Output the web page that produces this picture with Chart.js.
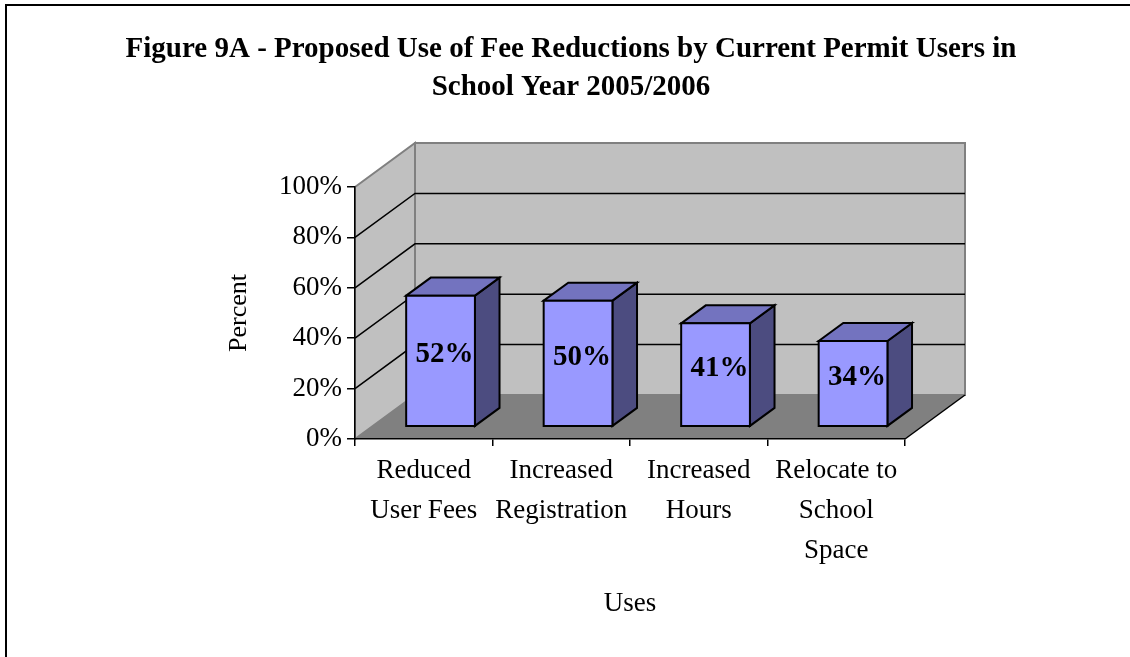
<!DOCTYPE html>
<html>
<head>
<meta charset="utf-8">
<title>Figure 9A</title>
<script src="https://cdn.jsdelivr.net/npm/chart.js@4.4.0/dist/chart.umd.min.js"></script>
<style>
  html, body { margin: 0; padding: 0; background: #fff; }
  #wrap { width: 1130px; height: 657px; }
</style>
</head>
<body>
<div id="wrap"><canvas id="myChart" width="1130" height="657"></canvas></div>
<script>
// chart data
const titleLines = ['Figure 9A - Proposed Use of Fee Reductions by Current Permit Users in', 'School Year 2005/2006'];
const categories = [['Reduced', 'User Fees'], ['Increased', 'Registration'], ['Increased', 'Hours'], ['Relocate to', 'School', 'Space']];
const percentValues = [52, 50, 41, 34];
const yTicks = [0, 20, 40, 60, 80, 100];

const SERIF = "'Liberation Serif', 'Times New Roman', serif";

// fake 3d depth of the plot box, and where the bars sit inside it
const DEPTH_X = 60;
const DEPTH_Y = -44;
const BAR_FRONT = 0.28;
const BAR_DEPTH = 0.41;

function poly(ctx, pts, fill, stroke, width) {
  ctx.beginPath();
  ctx.moveTo(pts[0][0], pts[0][1]);
  for (let i = 1; i < pts.length; i++) {
    ctx.lineTo(pts[i][0], pts[i][1]);
  }
  ctx.closePath();
  if (fill) {
    ctx.fillStyle = fill;
    ctx.fill();
  }
  if (stroke) {
    ctx.strokeStyle = stroke;
    ctx.lineWidth = width || 1;
    ctx.stroke();
  }
}

function line(ctx, pts, color, width) {
  ctx.beginPath();
  ctx.moveTo(pts[0][0], pts[0][1]);
  for (let i = 1; i < pts.length; i++) {
    ctx.lineTo(pts[i][0], pts[i][1]);
  }
  ctx.strokeStyle = color;
  ctx.lineWidth = width;
  ctx.stroke();
}

// walls, floor and gridlines behind the axes
const walls3d = {
  id: 'walls3d',
  beforeDraw(chart) {
    const ctx = chart.ctx;
    const a = chart.chartArea;
    const yScale = chart.scales.y;
    ctx.save();
    ctx.lineJoin = 'miter';

    // back wall
    poly(ctx, [
      [a.left + DEPTH_X, a.top + DEPTH_Y],
      [a.right + DEPTH_X, a.top + DEPTH_Y],
      [a.right + DEPTH_X, a.bottom + DEPTH_Y],
      [a.left + DEPTH_X, a.bottom + DEPTH_Y]
    ], '#c0c0c0', '#808080', 2);

    // side wall
    poly(ctx, [
      [a.left, a.top],
      [a.left + DEPTH_X, a.top + DEPTH_Y],
      [a.left + DEPTH_X, a.bottom + DEPTH_Y],
      [a.left, a.bottom]
    ], '#c0c0c0', '#808080', 2);

    // floor
    poly(ctx, [
      [a.left, a.bottom],
      [a.right, a.bottom],
      [a.right + DEPTH_X, a.bottom + DEPTH_Y],
      [a.left + DEPTH_X, a.bottom + DEPTH_Y]
    ], '#808080');
    line(ctx, [[a.right, a.bottom], [a.right + DEPTH_X, a.bottom + DEPTH_Y]], '#000', 1.5);

    // gridlines on side and back wall
    for (const v of yTicks) {
      if (v === yTicks[0] || v === yTicks[yTicks.length - 1]) continue;
      const y = yScale.getPixelForValue(v);
      line(ctx, [
        [a.left, y],
        [a.left + DEPTH_X, y + DEPTH_Y],
        [a.right + DEPTH_X, y + DEPTH_Y]
      ], '#000', 1.5);
    }
    ctx.restore();
  },

  // skip the flat bars, the boxes are drawn below
  beforeDatasetDraw() {
    return false;
  },

  afterDatasetsDraw(chart) {
    const ctx = chart.ctx;
    const meta = chart.getDatasetMeta(0);
    const ox = DEPTH_X * BAR_FRONT;
    const oy = DEPTH_Y * BAR_FRONT;
    const dx = DEPTH_X * BAR_DEPTH;
    const dy = DEPTH_Y * BAR_DEPTH;
    ctx.save();
    ctx.lineJoin = 'miter';
    meta.data.forEach(function (bar, i) {
      const l = bar.x - bar.width / 2 + ox;
      const r = bar.x + bar.width / 2 + ox;
      const t = bar.y + oy;
      const b = bar.base + oy;
      // side
      poly(ctx, [[r, t], [r + dx, t + dy], [r + dx, b + dy], [r, b]], '#4c4c80', '#000', 2);
      // top
      poly(ctx, [[l, t], [l + dx, t + dy], [r + dx, t + dy], [r, t]], '#7373bf', '#000', 2);
      // front
      poly(ctx, [[l, t], [r, t], [r, b], [l, b]], '#9999ff', '#000', 2);

      ctx.fillStyle = '#000';
      ctx.font = 'bold 29px ' + SERIF;
      ctx.textAlign = 'center';
      ctx.textBaseline = 'middle';
      ctx.fillText(percentValues[i] + '%', bar.x + ox + 4, (t + b) / 2 - 6);
    });
    ctx.restore();
  },

  // frame and title
  afterDraw(chart) {
    const ctx = chart.ctx;
    ctx.save();
    ctx.fillStyle = '#000';
    ctx.fillRect(5, 4, 1125, 2);
    ctx.fillRect(5, 4, 2, 653);

    ctx.font = 'bold 29px ' + SERIF;
    ctx.textAlign = 'center';
    ctx.textBaseline = 'middle';
    ctx.fillText(titleLines[0], 571, 50);
    ctx.fillText(titleLines[1], 571, 88);
    ctx.restore();
  }
};

const ctx = document.getElementById('myChart').getContext('2d');

// eslint-disable-next-line
const chart = new Chart(ctx, {
  type: 'bar',
  data: {
    labels: categories,
    datasets: [
      {
        label: 'Percent',
        backgroundColor: '#9999ff',
        data: percentValues,
        barPercentage: 1,
        categoryPercentage: 0.5
      }
    ]
  },
  options: {
    responsive: false,
    animation: false,
    layout: {
      padding: { top: 187, right: 225, bottom: 37, left: 224 }
    },
    plugins: {
      legend: { display: false },
      tooltip: { enabled: false }
    },
    scales: {
      x: {
        grid: { drawOnChartArea: false, offset: true, tickLength: 7, color: '#000', lineWidth: 1.5 },
        border: { color: '#000', width: 1.5 },
        ticks: {
          color: '#000',
          font: { family: SERIF, size: 27, lineHeight: 1.48 },
          padding: 5,
          maxRotation: 0,
          autoSkip: false
        },
        title: {
          display: true,
          text: 'Uses',
          color: '#000',
          font: { family: SERIF, size: 27 },
          padding: 0
        },
        afterFit: function (scale) {
          scale.height = 181;
        }
      },
      y: {
        min: yTicks[0],
        max: yTicks[yTicks.length - 1],
        grid: { drawOnChartArea: false, tickLength: 8, color: '#000', lineWidth: 1.5 },
        border: { color: '#000', width: 1.5 },
        ticks: {
          stepSize: yTicks[1] - yTicks[0],
          color: '#000',
          font: { family: SERIF, size: 27 },
          padding: 5,
          callback: function (v) { return v + '%'; }
        },
        title: {
          display: true,
          text: 'Percent',
          color: '#000',
          font: { family: SERIF, size: 26 },
          padding: 0
        },
        afterFit: function (scale) {
          scale.width = 131;
        }
      }
    }
  },
  plugins: [walls3d]
});
</script>
</body>
</html>
